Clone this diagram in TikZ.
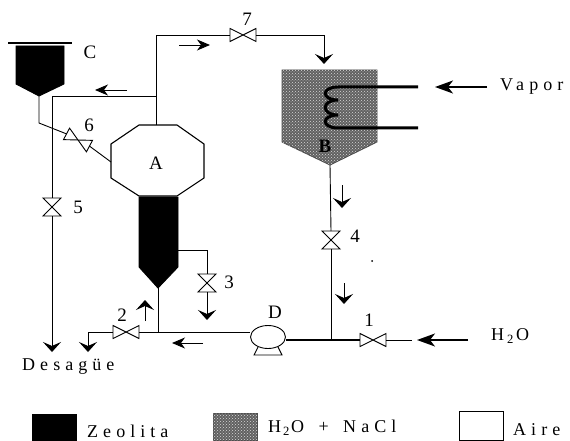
\documentclass[tikz,border=0pt]{standalone}
\usepackage{fontspec}
\setmainfont{Liberation Serif}
\newfontfamily\spaced[LetterSpace=28]{Liberation Serif}
\usetikzlibrary{arrows.meta,patterns,shapes.geometric}

\newcommand{\valve}[4][]{
  \node[valvebox,rotate=#4,#1] (#2) at (#3) {};
  \draw[pipe] (#2.south west) -- (#2.north east) -- (#2.south east) -- (#2.north west) -- cycle;
}

\begin{document}
\begin{tikzpicture}[
x=1pt,y=-1pt,
font=\fontsize{19}{21}\selectfont,
pipe/.style={line width=0.9pt},
flow/.style={line width=0.9pt,-{Stealth[length=10pt,width=18pt,inset=4pt]}},
flowh/.style={line width=0.9pt,-{Stealth[length=13pt,width=11pt,inset=4pt]}},
flowbig/.style={line width=1.4pt,-{Stealth[length=18pt,width=13pt,inset=5pt]}},
valvebox/.style={
  minimum width=26pt,
  minimum height=13pt,
  inner sep=0pt,
  outer sep=0pt
},
valvesq/.style={
  minimum width=18pt,
  minimum height=18pt
},
zeolita/.style={
  draw,
  fill=black,
  line width=0.9pt
},
salmuera/.style={
  draw=black!70,
  fill=black!62,
  line width=0.9pt,
  postaction={pattern=crosshatch dots,pattern color=white!85!black}
},
spacedtext/.style={
  anchor=west,
  inner sep=1pt,
  font=\spaced\fontsize{18}{21}\selectfont
}
]
\useasboundingbox (0,0) rectangle (570,441);

% tanque C
\draw[pipe,line width=1.1pt] (8,43) -- (72,43);
\draw[zeolita] (16,46) -- (64,46) -- (64,84) -- (39,96) coordinate (Ctip) -- (16,84) -- cycle;
\node at (90,52) (C) {C};

% columna A
\draw[pipe,line width=1.1pt] (139,125) coordinate (Atop) -- (177,125) -- (204,144) -- (204,178)
  -- (177,196) -- (139,196) -- (111,178) -- (111,162) coordinate (Aleft) -- (111,144) -- cycle;
\coordinate (Atopmid) at (156,125);
\draw[zeolita] (139,197) -- (178,197) -- (178,267) -- (158,288) coordinate (Atip) -- (139,267) -- cycle;
\node at (156,163) (A) {A};

% tanque B
\draw[salmuera] (282,70) -- (377,70) -- (377,142) -- (330,165) coordinate (Btip) -- (282,142) -- cycle;
\node at (325,146) (B) {\textbf{B}};
\draw[line width=3pt] (418,87) -- (338,87) .. controls (321,87) and (321,100) .. (338,100)
  .. controls (321,100) and (321,115) .. (338,115)
  .. controls (321,115) and (321,128) .. (338,128) -- (418,128);

% bomba D
\node[draw,ellipse,pipe,minimum width=35pt,minimum height=23pt,inner sep=0pt] at (268,337) (D) {};
\draw[pipe] (258,347) -- (254,355) -- (282,355) -- (278,347);
\node at (275,312) (Dlabel) {D};

% valvulas
\valve{v1}{373,340}{0}
\valve{v2}{126,332}{0}
\valve[valvesq]{v3}{207,283}{90}
\valve[valvesq]{v4}{331,240}{90}
\valve[valvesq]{v5}{52,207}{90}
\valve{v6}{78,140}{-28}
\valve{v7}{243,35}{0}
\node at (369,320) (n1) {1};
\node at (122,315) (n2) {2};
\node at (229,282) (n3) {3};
\node at (355,236) (n4) {4};
\node at (78,207) (n5) {5};
\node at (89,125) (n6) {6};
\node at (247,19) (n7) {7};

% tuberias
\coordinate (top) at (156,35);
\coordinate (split) at (156,96);
\coordinate (bend5) at (52,96);
\coordinate (bendC) at (39,123);
\coordinate (side) at (178,250);
\coordinate (bend3) at (207,250);
\coordinate (tee) at (158,332);
\coordinate (teeB) at (331,340);
\coordinate (drain5) at (52,352);
\coordinate (bend2) at (88,332);
\coordinate (drain2) at (88,352);
\coordinate (drain3) at (207,320);
\coordinate (bendB) at (324,35);
\coordinate (inB) at (324,64);
\coordinate (water) at (412,340);

\draw[pipe] (Atopmid) -- (top) -- (v7.west);
\draw[flow] (v7.east) -- (bendB) -- (inB);
\draw[pipe] (split) -- (bend5) -- (v5.east);
\draw[flow] (v5.west) -- (drain5);
\draw[pipe] (Ctip) -- (bendC) -- (v6.west);
\draw[pipe] (v6.east) -- (Aleft);
\draw[pipe] (side) -- (bend3) -- (v3.east);
\draw[flow] (v3.west) -- (drain3);
\draw[pipe] (Atip) -- (tee);
\draw[pipe] (v2.east -| D.west) -- (v2.east);
\draw[flow] (v2.west) -- (bend2) -- (drain2);
\draw[pipe] (Btip) -- (v4.east);
\draw[pipe] (v4.west) -- (teeB);
\draw[pipe,line width=1.4pt] (D.east |- teeB) -- (v1.west);
\draw[pipe] (v1.east) -- (water);

% flechas de sentido
\coordinate (f1a) at (179,45);   \coordinate (f1b) at (210,45);
\coordinate (f2a) at (127,90);   \coordinate (f2b) at (95,90);
\coordinate (f3a) at (342,185);  \coordinate (f3b) at (342,208);
\coordinate (f4a) at (344,283);  \coordinate (f4b) at (344,304);
\coordinate (f5a) at (145,321);  \coordinate (f5b) at (145,300);
\coordinate (f6a) at (203,343);  \coordinate (f6b) at (172,343);
\coordinate (f7a) at (487,87);   \coordinate (f7b) at (435,87);
\coordinate (f8a) at (468,340);  \coordinate (f8b) at (417,340);
\draw[flowh] (f1a) -- (f1b);
\draw[flowh] (f2a) -- (f2b);
\draw[flow] (f3a) -- (f3b);
\draw[flow] (f4a) -- (f4b);
\draw[flow] (f5a) -- (f5b);
\draw[flowh] (f6a) -- (f6b);
\draw[flowbig] (f7a) -- (f7b);
\draw[flowbig] (f8a) -- (f8b);

\node[spacedtext] at (499,87) (vapor) {Vapor};
\node[spacedtext] at (490,336) (agua) {H\hspace{3pt}\textsubscript{2}\hspace{2pt}O};
\node[spacedtext] at (21,367) (desague) {Desagüe};

% leyenda
\draw[zeolita] (32,414) rectangle (76,440);
\node[spacedtext] at (86,431) (zeolita) {Zeolita};
\draw[salmuera] (213,413) rectangle (257,440);
\node[spacedtext] at (267,428) (mezcla) {H\hspace{2pt}\textsubscript{2}\hspace{1pt}O\hspace{5pt} + \hspace{5pt}NaCl};
\draw[pipe] (459,411) rectangle (503,440);
\node[spacedtext] at (512,430) (aire) {Aire};

\fill (372,261) circle (1pt);
\end{tikzpicture}
\end{document}
